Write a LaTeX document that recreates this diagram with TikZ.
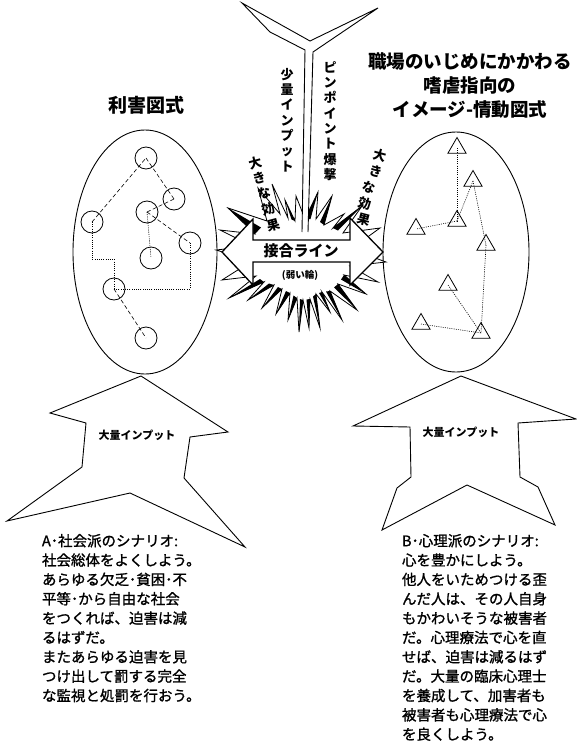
\documentclass[tikz,border=0pt]{standalone}
\usepackage{fontspec}
\setmainfont{Noto Sans CJK JP}
\newfontfamily\bodyfont{Noto Sans CJK JP}[FakeBold=1.2]
\usetikzlibrary{shapes.geometric,calc}
\begin{document}
\begin{tikzpicture}[x=1pt,y=-1pt,
  every node/.style={inner sep=0pt, outer sep=0pt},
  circ/.style={draw, circle, minimum size=22pt, line width=0.8pt},
  tri/.style={draw, regular polygon, regular polygon sides=3, minimum size=21pt, line width=0.8pt},
  dashlink/.style={dash pattern=on 4pt off 2.5pt, line width=0.6pt},
  dotlink/.style={dash pattern=on 1pt off 1.2pt, line width=0.6pt},
  outline/.style={line width=0.9pt, line join=miter},
  body/.style={align=left, anchor=north west, font=\bodyfont\fontsize{14.5}{19.35}\selectfont},
  vert/.style={align=center, font=\fontsize{13}{15.3}\selectfont\bfseries},
  tilt/.style={font=\fontsize{13}{13}\selectfont\bfseries},
  title/.style={align=center, font=\fontsize{18.5}{24}\selectfont\bfseries}
]
\useasboundingbox (0,0) rectangle (577,744);

% ---------- ellipses ----------
\draw[line width=0.9pt] (145,252) ellipse [x radius=72, y radius=122];
\draw[line width=0.9pt] (456,252) ellipse [x radius=73, y radius=120];

% ---------- left ellipse: circles ----------
\node[circ] (c1) at (146,158) {};
\node[circ] (c2) at (174,199) {};
\node[circ] (c3) at (147,212) {};
\node[circ] (c4) at (92,222) {};
\node[circ] (c5) at (190,243) {};
\node[circ] (c6) at (151,258) {};
\node[circ] (c7) at (114,289) {};
\node[circ] (c8) at (146,338) {};
\coordinate (k1) at (92,259);
\coordinate (k2) at (114,259);
\draw[dashlink] (c4.center) -- (c1.center);
\draw[dashlink] (c1.center) -- (c2.center);
\draw[dashlink] (c2.center) -- (c3.center);
\draw[dashlink] (c3.center) -- (c5.center);
\draw[dashlink] (c7.center) -- (c8.center);
\draw[dotlink] (c3.center) -- (c6.center);
\draw[dotlink] (c4.center) -- (k1) -- (k2) -- (c7.center);
\draw[dotlink] (c5.center) |- (c7.center);

% ---------- right ellipse: triangles ----------
\node[tri] (r1) at (457,148) {};
\node[tri] (r2) at (473,181) {};
\node[tri] (r3) at (457,221) {};
\node[tri] (r4) at (416,229) {};
\node[tri] (r5) at (486,245) {};
\node[tri] (r6) at (448,285) {};
\node[tri] (r7) at (421,324) {};
\node[tri] (r8) at (481,333) {};
\draw[dotlink] (r1.center) -- (r3.center);
\draw[dotlink] (r2.center) -- (r3.center);
\draw[dotlink] (r3.center) -- (r4.center);
\draw[dotlink] (r2.center) -- (r5.center);
\draw[dotlink] (r5.center) -- (r8.center);
\draw[dotlink] (r6.center) -- (r8.center);
\draw[dotlink] (r7.center) -- (r8.center);

% ---------- bottom arrows ----------
\draw[outline] (141,376) -- (228,432) -- (190,437) -- (184,478) -- (245,547) -- (130,493)
  -- (7,521) -- (82,467) -- (86,423) -- (50,413) -- cycle;
\node[font=\fontsize{11}{11}\selectfont\bfseries] (inA) at (137,435) {大量インプット};
\draw[outline] (461,376) -- (576,419) -- (518,423) -- (520,477) -- (538,487) -- (555,525)
  -- (467,485) -- (382,530) -- (397,488) -- (411,477) -- (410,427) -- (353,426) -- cycle;
\node[font=\fontsize{11}{11}\selectfont\bfseries] (inB) at (461,432) {大量インプット};

% ---------- burst ----------
\coordinate (t1) at (228,208);  \coordinate (v1) at (267,221);
\coordinate (t2) at (258,188);  \coordinate (v2) at (280,214);
\coordinate (t3) at (272,184);  \coordinate (v3) at (288,218);
\coordinate (t4) at (285,200);  \coordinate (v4) at (295,221);
\coordinate (t5) at (296,196);  \coordinate (v5) at (305,219);
\coordinate (t6) at (318,192);  \coordinate (v6) at (316,219);
\coordinate (t7) at (332,196);  \coordinate (v7) at (324,225);
\coordinate (t8) at (344,214);  \coordinate (v8) at (333,228);
\coordinate (t9) at (362,206);  \coordinate (v9) at (343,233);
\coordinate (t10) at (380,228); \coordinate (v10) at (351,249);
\coordinate (t11) at (386,262); \coordinate (v11) at (350,266);
\coordinate (t12) at (378,282); \coordinate (v12) at (344,275);
\coordinate (t13) at (366,294); \coordinate (v13) at (338,284);
\coordinate (t14) at (357,310); \coordinate (v14) at (330,291);
\coordinate (t15) at (342,320); \coordinate (v15) at (322,292);
\coordinate (t16) at (330,312); \coordinate (v16) at (316,294);
\coordinate (t17) at (320,328); \coordinate (v17) at (310,299);
\coordinate (t18) at (309,328); \coordinate (v18) at (303,300);
\coordinate (t19) at (299,332); \coordinate (v19) at (297,298);
\coordinate (t20) at (288,320); \coordinate (v20) at (290,293);
\coordinate (t21) at (276,314); \coordinate (v21) at (282,289);
\coordinate (t22) at (262,308); \coordinate (v22) at (274,285);
\coordinate (t23) at (248,300); \coordinate (v23) at (264,282);
\coordinate (t24) at (229,298); \coordinate (v24) at (256,276);
\coordinate (t25) at (222,280); \coordinate (v25) at (252,261);
\coordinate (t26) at (216,250); \coordinate (v26) at (252,246);
\coordinate (t27) at (220,230); \coordinate (v27) at (255,234);
\draw[fill=white, line width=0.8pt, line join=miter] (t1)
  \foreach \i [count=\j from 2] in {1,...,26} { -- (v\i) -- (t\j) } -- (v27) -- cycle;
\foreach \p/\i in {12/13,13/14,14/15,15/16,16/17,17/18,18/19,19/20,20/21,21/22,22/23,23/24,5/6,8/9,27/1}
  \fill (v\p) -- (t\i) -- ($(v\p)!0.5!(v\i)$) -- cycle;
\foreach \i/\n in {4/4,7/7}
  \fill (v\i) -- (t\i) -- ($(v\i)!0.5!(v\the\numexpr\i-1\relax)$) -- cycle;

% ---------- tail (fletching) from the top ----------
\fill[white] (302,232) -- (305,50) -- (270,32) -- (242,3) -- (310,41) -- (378,8) -- (313,52) -- (308,232) -- cycle;
\draw[outline] (302,232) -- (305,50) -- (270,32) -- (242,3) -- (310,41) -- (378,8) -- (313,52) -- (308,232);

% ---------- double arrow ----------
\draw[fill=white, line width=1.3pt, line join=miter] (222,252) -- (253,219) -- (253,240) -- (350,240)
  -- (350,218) -- (383,252) -- (350,285) -- (350,262) -- (253,262) -- (253,285) -- cycle;
\node[font=\fontsize{15}{15}\selectfont\bfseries] (join) at (301,251) {接合ライン};
\node[font=\fontsize{9.5}{9.5}\selectfont\bfseries] (weak) at (300,275) {(弱い輪)};

% ---------- vertical labels ----------
\node[vert] (small) at (287,120) {少\\量\\イ\\ン\\プ\\ッ\\ト};
\node[vert] (pin) at (330,121) {ピ\\ン\\ポ\\イ\\ン\\ト\\爆\\撃};
\node[tilt, rotate=15] (la1) at (255,163) {大};
\node[tilt, rotate=15] (la2) at (260,178) {き};
\node[tilt, rotate=15] (la3) at (265,193) {な};
\node[tilt, rotate=15] (la4) at (269,209) {効};
\node[tilt, rotate=15] (la5) at (274,225) {果};
\node[tilt, rotate=-15] (ra1) at (380,155) {大};
\node[tilt, rotate=-15] (ra2) at (376,171) {き};
\node[tilt, rotate=-15] (ra3) at (369,187) {な};
\node[tilt, rotate=-15] (ra4) at (365,203) {効};
\node[tilt, rotate=-15] (ra5) at (364,220) {果};

% ---------- titles ----------
\node[font=\fontsize{19}{19}\selectfont\bfseries] (ttl) at (146,105) {利害図式};
\node[title] (ttr) at (470,86) {職場のいじめにかかわる\\嗜虐指向の\\イメージ-情動図式};

% ---------- body texts ----------
\node[body] (txa) at (42,534) {A･社会派のシナリオ:\\社会総体をよくしよう。\\あらゆる欠乏･貧困･不\\平等･から自由な社会\\をつくれば、迫害は減\\るはずだ。\\またあらゆる迫害を見\\つけ出して罰する完全\\な監視と処罰を行おう。};
\node[body] (txb) at (402,534) {B･心理派のシナリオ:\\心を豊かにしよう。\\他人をいためつける歪\\んだ人は、その人自身\\もかわいそうな被害者\\だ。心理療法で心を直\\せば、迫害は減るはず\\だ。大量の臨床心理士\\を養成して、加害者も\\被害者も心理療法で心\\を良くしよう。};
\end{tikzpicture}
\end{document}
